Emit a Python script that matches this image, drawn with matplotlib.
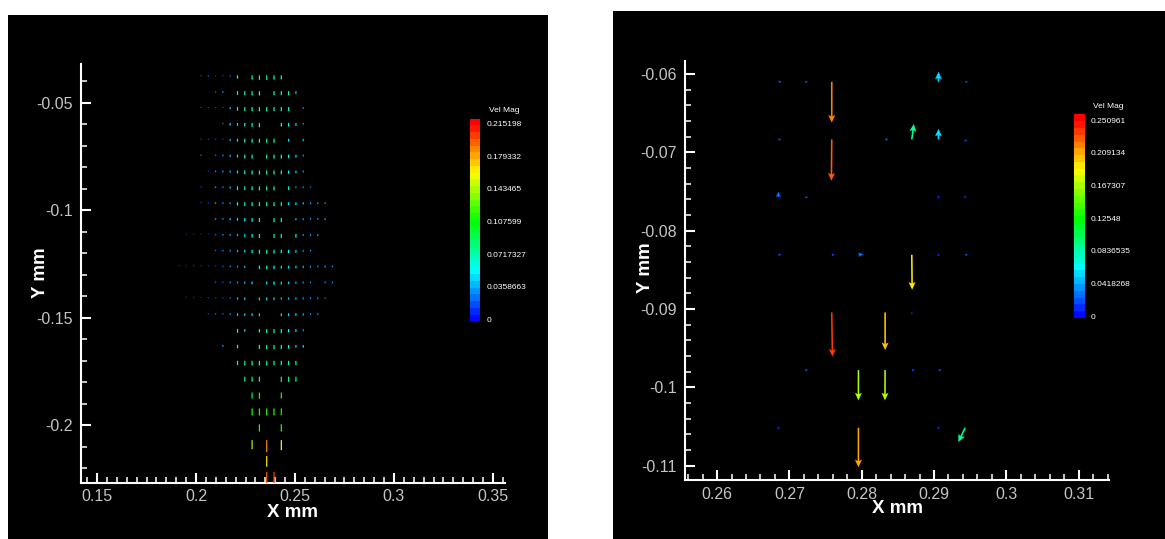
import numpy as np
import matplotlib
matplotlib.use("Agg")
import matplotlib.pyplot as plt
from matplotlib.colors import LinearSegmentedColormap, ListedColormap, BoundaryNorm
from matplotlib.patches import Rectangle
from matplotlib.ticker import MultipleLocator, FixedLocator, FixedFormatter

plt.rcParams["axes.unicode_minus"] = False

# ---------------- left field: near-wall region ----------------
left_x = [0.19143, 0.19512, 0.19881, 0.20250, 0.20619, 0.20988, 0.21357, 0.21726,
          0.22095, 0.22464, 0.22833, 0.23202, 0.23571, 0.23940, 0.24309, 0.24678,
          0.25047, 0.25416, 0.25785, 0.26154, 0.26523, 0.26892]
left_y = [-0.03725, -0.04463, -0.05201, -0.05939, -0.06677, -0.07415, -0.08153,
          -0.08891, -0.09629, -0.10367, -0.11105, -0.11843, -0.12581, -0.13319,
          -0.14057, -0.14795, -0.15533, -0.16271, -0.17009, -0.17747, -0.18485,
          -0.19223, -0.19961, -0.20699, -0.21437, -0.22175]
# downward speed at each grid node, in thousandths (0 = no vector)
left_speed = [
    [0, 0, 0, 20, 25, 20, 20, 25, 55, 0, 70, 75, 75, 70, 65, 0, 0, 0, 0, 0, 0, 0],
    [0, 0, 0, 0, 0, 25, 30, 0, 60, 65, 70, 70, 0, 65, 60, 65, 45, 0, 0, 0, 0, 0],
    [0, 0, 0, 20, 20, 20, 20, 40, 60, 65, 70, 70, 70, 65, 65, 65, 0, 30, 0, 0, 0, 0],
    [0, 0, 0, 0, 0, 0, 25, 45, 50, 55, 65, 70, 0, 0, 60, 60, 50, 30, 0, 0, 0, 0],
    [0, 0, 0, 20, 20, 20, 20, 40, 50, 60, 65, 65, 65, 65, 0, 50, 0, 40, 0, 0, 0, 0],
    [0, 0, 0, 25, 0, 25, 30, 40, 50, 60, 65, 0, 65, 65, 65, 60, 50, 35, 0, 0, 0, 0],
    [0, 0, 0, 0, 20, 30, 35, 40, 50, 60, 65, 65, 65, 65, 60, 55, 45, 35, 0, 0, 0, 0],
    [0, 0, 0, 20, 0, 30, 30, 40, 60, 60, 65, 65, 65, 65, 0, 60, 30, 30, 25, 0, 0, 0],
    [0, 0, 0, 20, 20, 30, 30, 35, 55, 60, 65, 65, 65, 65, 60, 50, 50, 40, 35, 35, 30, 0],
    [0, 0, 0, 0, 0, 30, 30, 40, 45, 55, 60, 65, 0, 70, 65, 0, 40, 35, 30, 30, 35, 0],
    [0, 15, 15, 15, 15, 25, 30, 35, 40, 50, 60, 65, 0, 65, 65, 0, 60, 35, 35, 35, 0, 0],
    [0, 0, 0, 0, 0, 25, 30, 35, 40, 45, 55, 65, 65, 60, 55, 55, 50, 35, 30, 0, 0, 0],
    [15, 15, 15, 15, 15, 20, 25, 30, 35, 40, 0, 55, 60, 55, 50, 50, 45, 40, 35, 30, 35, 30],
    [0, 0, 0, 0, 0, 25, 25, 30, 35, 40, 45, 0, 50, 55, 50, 45, 40, 35, 30, 0, 30, 30],
    [0, 15, 15, 15, 20, 20, 20, 25, 40, 45, 0, 50, 50, 45, 40, 40, 40, 35, 30, 30, 25, 0],
    [0, 0, 0, 0, 20, 25, 25, 30, 45, 45, 45, 50, 0, 0, 50, 50, 45, 40, 30, 30, 0, 0],
    [0, 0, 0, 0, 0, 0, 0, 0, 60, 45, 0, 55, 65, 65, 65, 55, 50, 35, 0, 0, 0, 0],
    [0, 0, 0, 0, 0, 0, 35, 0, 55, 0, 0, 65, 70, 70, 65, 60, 45, 45, 0, 0, 0, 0],
    [0, 0, 0, 0, 0, 0, 0, 0, 70, 75, 75, 75, 75, 70, 70, 70, 70, 0, 0, 0, 0, 0],
    [0, 0, 0, 0, 0, 0, 0, 0, 0, 80, 80, 80, 0, 0, 85, 85, 80, 0, 0, 0, 0, 0],
    [0, 0, 0, 0, 0, 0, 0, 0, 0, 0, 95, 100, 0, 0, 95, 0, 0, 0, 0, 0, 0, 0],
    [0, 0, 0, 0, 0, 0, 0, 0, 0, 0, 110, 110, 110, 110, 105, 0, 0, 0, 0, 0, 0, 0],
    [0, 0, 0, 0, 0, 0, 0, 0, 0, 0, 0, 115, 0, 0, 115, 0, 0, 0, 0, 0, 0, 0],
    [0, 0, 0, 0, 0, 0, 0, 0, 0, 0, 140, 0, 185, 0, 155, 0, 0, 0, 0, 0, 0, 0],
    [0, 0, 0, 0, 0, 0, 0, 0, 0, 0, 0, 0, 165, 0, 0, 0, 0, 0, 0, 0, 0, 0],
    [0, 0, 0, 0, 0, 0, 0, 0, 0, 0, 0, 0, 195, 205, 0, 0, 0, 0, 0, 0, 0, 0],
]
left_xticks = [0.15, 0.2, 0.25, 0.3, 0.35]
left_xticklabels = ["0.15", "0.2", "0.25", "0.3", "0.35"]
left_yticks = [-0.05, -0.1, -0.15, -0.2]
left_yticklabels = ["-0.05", "-0.1", "-0.15", "-0.2"]
left_legend_vals = [0, 0.0358663, 0.0717327, 0.107599, 0.143465, 0.179332, 0.215198]
left_legend_labels = ["0", "0.0358663", "0.0717327", "0.107599", "0.143465", "0.179332", "0.215198"]

# ---------------- right field: zoomed sub-region ----------------
right_x = [0.26848, 0.27217, 0.27586, 0.27955, 0.28324, 0.28693, 0.29062, 0.29431]
right_y = [-0.06101, -0.06837, -0.07573, -0.08309, -0.09045, -0.09781, -0.10517]
right_col = [0, 1, 2, 6, 7,  0, 2, 4, 5, 6, 7,  0, 1, 6, 7,  0, 2, 3, 5, 6, 7,
             2, 4, 5,  1, 3, 4, 5, 6,  0, 3, 6, 7]
right_row = [0, 0, 0, 0, 0,  1, 1, 1, 1, 1, 1,  2, 2, 2, 2,  3, 3, 3, 3, 3, 3,
             4, 4, 4,  5, 5, 5, 5, 5,  6, 6, 6, 6]
right_u = [0.020, 0.018, 0.0, 0.0, 0.018,
           0.018, -0.002, 0.020, 0.012, 0.0, 0.008,
           0.0, 0.018, 0.0, 0.0,
           0.018, 0.018, 0.030, 0.002, 0.010, 0.018,
           0.004, 0.0, 0.0,
           0.018, 0.0, -0.001, 0.018, 0.018,
           0.0, 0.0, 0.0, -0.040]
right_v = [0.0, 0.0, -0.222, 0.055, 0.0,
           0.0, -0.224, 0.0, 0.084, 0.058, -0.015,
           0.030, -0.004, -0.012, -0.012,
           0.0, 0.0, 0.003, -0.190, 0.008, 0.0,
           -0.240, -0.205, -0.014,
           0.0, -0.165, -0.165, 0.0, 0.0,
           -0.012, -0.215, -0.012, -0.078]
right_xticks = [0.26, 0.27, 0.28, 0.29, 0.3, 0.31]
right_xticklabels = ["0.26", "0.27", "0.28", "0.29", "0.3", "0.31"]
right_yticks = [-0.06, -0.07, -0.08, -0.09, -0.1, -0.11]
right_yticklabels = ["-0.06", "-0.07", "-0.08", "-0.09", "-0.1", "-0.11"]
right_legend_vals = [0, 0.0418268, 0.0836535, 0.12548, 0.167307, 0.209134, 0.250961]
right_legend_labels = ["0", "0.0418268", "0.0836535", "0.12548", "0.167307", "0.209134", "0.250961"]

# ---------------- drawing ----------------
W, H = 1165, 539
fig = plt.figure(figsize=(W / 100, H / 100), dpi=100, facecolor="white")

TICK_FONT = ["Liberation Sans Narrow", "Liberation Sans", "DejaVu Sans"]
LABEL_FONT = ["Liberation Sans", "DejaVu Sans"]
rainbow = LinearSegmentedColormap.from_list(
    "velmag", ["#0000ff", "#00ffff", "#00ff00", "#ffff00", "#ff0000"])
NBANDS = 30


def px_rect(x0, y0, x1, y1):
    return [x0 / W, 1 - y1 / H, (x1 - x0) / W, (y1 - y0) / H]


def banded(vmax, lo, hi):
    edges = np.linspace(lo, hi, NBANDS + 1)
    mids = 0.5 * (edges[:-1] + edges[1:])
    cmap = ListedColormap(rainbow(np.clip(mids / vmax, 0, 1)))
    return edges, cmap, BoundaryNorm(edges, NBANDS)


def panel_background(x0, y0, x1, y1):
    r = px_rect(x0, y0, x1, y1)
    fig.patches.append(Rectangle((r[0], r[1]), r[2], r[3], transform=fig.transFigure,
                                 facecolor="black", edgecolor="none", zorder=-5))


def style_axes(ax, xlim, ylim, xticks, xlabels, yticks, ylabels, xminor, yminor,
               xlab_pos, ylab_pos):
    ax.set_facecolor("black")
    ax.set_xlim(*xlim)
    ax.set_ylim(*ylim)
    for side in ("top", "right"):
        ax.spines[side].set_visible(False)
    for side in ("left", "bottom"):
        ax.spines[side].set_color("white")
        ax.spines[side].set_linewidth(1.5)
    ax.xaxis.set_major_locator(FixedLocator(xticks))
    ax.xaxis.set_major_formatter(FixedFormatter(xlabels))
    ax.yaxis.set_major_locator(FixedLocator(yticks))
    ax.yaxis.set_major_formatter(FixedFormatter(ylabels))
    ax.xaxis.set_minor_locator(MultipleLocator(xminor))
    ax.yaxis.set_minor_locator(MultipleLocator(yminor))
    ax.tick_params(which="major", direction="in", length=7, width=1.5, color="white",
                   labelcolor="#c4c4c4", labelsize=11.5)
    ax.tick_params(which="minor", direction="in", length=4, width=1.1, color="white")
    ax.tick_params(axis="x", which="major", pad=4.5)
    ax.tick_params(axis="y", which="major", pad=6)
    for lab in ax.get_xticklabels() + ax.get_yticklabels():
        lab.set_family(TICK_FONT)
    ax.set_xlabel("X mm", color="white", fontsize=13.5, fontweight="bold",
                  family=LABEL_FONT, va="center")
    ax.set_ylabel("Y mm", color="white", fontsize=13.5, fontweight="bold",
                  family=LABEL_FONT, va="center", ha="center")
    ax.xaxis.set_label_coords(*xlab_pos)
    ax.yaxis.set_label_coords(*ylab_pos)


def legend(rect_px, edges, cmap, norm, vals, labels, title_xy):
    cax = fig.add_axes(px_rect(*rect_px))
    cax.pcolormesh([0, 1], edges, (0.5 * (edges[:-1] + edges[1:]))[:, None],
                   cmap=cmap, norm=norm, shading="flat")
    cax.set_xlim(0, 1)
    cax.set_ylim(edges[0], edges[-1])
    for s in cax.spines.values():
        s.set_visible(False)
    cax.set_xticks([])
    cax.yaxis.tick_right()
    cax.set_yticks(vals)
    cax.set_yticklabels(labels)
    cax.tick_params(axis="y", length=0, pad=4.5, labelsize=6, labelcolor="white")
    for lab in cax.get_yticklabels():
        lab.set_family(TICK_FONT)
    fig.text(title_xy[0] / W, 1 - title_xy[1] / H, "Vel Mag", color="white",
             fontsize=6, family=TICK_FONT, ha="center", va="center")


# panel backgrounds
panel_background(8, 15, 548, 539)
panel_background(612.6, 11, 1165, 539)

# ---- left panel ----
L_VMAX = left_legend_vals[-1]
l_edges, l_cmap, l_norm = banded(L_VMAX, -0.0019, 0.2208)
axL = fig.add_axes(px_rect(81.4, 63.6, 505.4, 482.8))
style_axes(axL, (0.14207, 0.35632), (-0.22685, -0.03180),
           left_xticks, left_xticklabels, left_yticks, left_yticklabels,
           0.005, 0.01, (0.499, -0.0697), (-0.0976, 0.5005))

lx, ly, lu, lv = [], [], [], []
for i, row in enumerate(left_speed):
    for k, s in enumerate(row):
        if s:
            lx.append(left_x[k])
            ly.append(left_y[i])
            lu.append(0.0)
            lv.append(-s / 1000.0)
lu = np.array(lu)
lv = np.array(lv)
axL.quiver(lx, ly, lu, lv, np.hypot(lu, lv), cmap=l_cmap, norm=l_norm,
           angles="xy", scale_units="xy", scale=1 / 0.031, units="dots",
           width=1.2, headwidth=1.6, headlength=1.0, headaxislength=1.0,
           minlength=1.0, pivot="tail", zorder=3)
legend((469.6, 118.6, 480.4, 321.3), l_edges, l_cmap, l_norm,
       left_legend_vals, left_legend_labels, (504, 110.6))

# ---- right panel ----
R_VMAX = right_legend_vals[-1]
r_edges, r_cmap, r_norm = banded(R_VMAX, -0.00218, 0.25852)
axR = fig.add_axes(px_rect(685.4, 60.8, 1109.2, 480.4))
style_axes(axR, (0.25562, 0.31423), (-0.11189, -0.05833),
           right_xticks, right_xticklabels, right_yticks, right_yticklabels,
           0.002, 0.002, (0.4993, -0.0672), (-0.0953, 0.506))

rx = [right_x[c] for c in right_col]
ry = [right_y[r] for r in right_row]
ru = np.array(right_u)
rv = np.array(right_v)
axR.quiver(rx, ry, ru, rv, np.hypot(ru, rv), cmap=r_cmap, norm=r_norm,
           angles="xy", scale_units="xy", scale=1 / 0.0235, units="dots",
           width=1.6, headwidth=4.4, headlength=4.8, headaxislength=4.0,
           minlength=1.5, pivot="tail", zorder=3)
legend((1073.9, 114.4, 1084.7, 317.9), r_edges, r_cmap, r_norm,
       right_legend_vals, right_legend_labels, (1108, 106.9))

fig.savefig("out.png", dpi=100, facecolor="white")
